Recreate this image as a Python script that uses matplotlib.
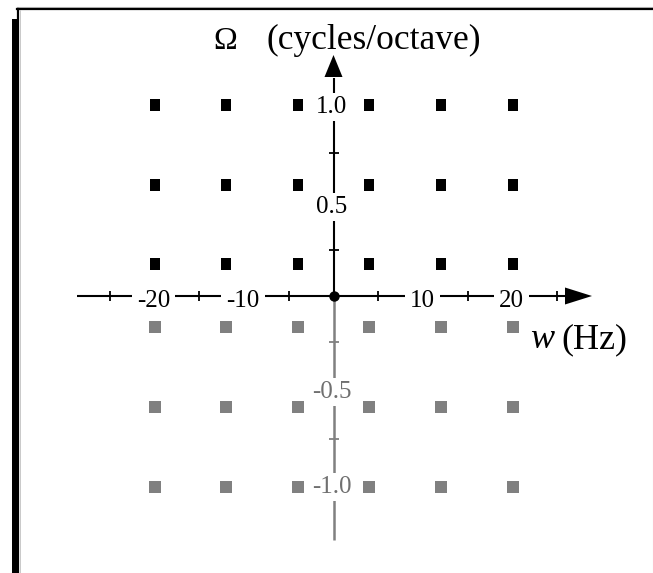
import matplotlib
matplotlib.use('Agg')
import matplotlib.pyplot as plt
from matplotlib.lines import Line2D
from matplotlib.patches import Rectangle
from matplotlib.transforms import IdentityTransform

plt.rcParams['font.family'] = ['Liberation Serif', 'DejaVu Serif']

# ---------------- data ----------------
w_columns = [-20, -12, -4, 4, 12, 20]          # Hz
omega_upper = [0.17, 0.58, 1.0]                # cycles/octave (black)
omega_lower = [-0.16, -0.58, -1.0]             # cycles/octave (gray)
x_minor_ticks = [-25, -15, -5, 5, 15, 25]
x_label_values = [-20, -10, 10, 20]
x_label_texts = ['-20', '-10', '10', '20']
y_ticks_upper = [0.24, 0.75]
y_ticks_lower = [-0.24, -0.75]
y_label_values = [1.0, 0.5, -0.5, -1.0]
y_label_texts = ['1.0', '0.5', '-0.5', '-1.0']

# ---------------- layout ----------------
W, H, DPI = 653, 573, 100
PX_PER_HZ = 8.95
PX_PER_UNIT = 191.0
OX, OY = 333.5, 296.0          # origin in pixels from top-left
PT = 72.0 / DPI                # points per pixel
GRAY = '#808080'
GRAY_TXT = '#707070'
LABEL_FS = 18

fig = plt.figure(figsize=(W / DPI, H / DPI), dpi=DPI)
ax = fig.add_axes([0, 0, 1, 1])
ax.set_xlim(-OX / PX_PER_HZ, (W - OX) / PX_PER_HZ)
ax.set_ylim(-(H - OY) / PX_PER_UNIT, OY / PX_PER_UNIT)
ax.axis('off')


def dx(px):
    return (px - OX) / PX_PER_HZ


def dy(py):
    return (OY - py) / PX_PER_UNIT


# axes lines
ax.plot([dx(77), dx(567)], [0, 0], color='k', lw=1.5, zorder=1, solid_capstyle='butt')
ax.fill([dx(565), dx(592), dx(565)], [dy(287.5), 0, dy(304.5)], color='k', lw=0, zorder=2)
ax.plot([0, 0], [0, dy(78)], color='k', lw=1.5, zorder=1, solid_capstyle='butt')
ax.fill([dx(OX - 9), 0, dx(OX + 9)], [dy(77), dy(55), dy(77)], color='k', lw=0, zorder=2)
ax.plot([0, 0], [0, dy(540)], color=GRAY, lw=1.8, zorder=0.9, solid_capstyle='butt')

# ticks
ax.plot(x_minor_ticks, [0] * len(x_minor_ticks), ls='none', marker='|', ms=6.5,
        mew=1.3, color='k', zorder=1)
ax.plot([0] * len(y_ticks_upper), y_ticks_upper, ls='none', marker='_', ms=6.5,
        mew=1.3, color='k', zorder=1)
ax.plot([0] * len(y_ticks_lower), y_ticks_lower, ls='none', marker='_', ms=6.5,
        mew=1.3, color=GRAY, zorder=1)

# origin dot
ax.plot([0], [0], marker='o', ms=6.5, color='k', zorder=4)

# tick labels
box = dict(boxstyle='square,pad=0.2', fc='white', ec='none')
for v, t in zip(x_label_values, x_label_texts):
    ax.annotate(t, (v, 0), xytext=(-1 * PT, -11 * PT), textcoords='offset points',
                ha='center', va='baseline', fontsize=LABEL_FS, color='k', bbox=box, zorder=3)

y_label_nudge_px = [-8, -12.5, -6.5, -6]
for v, t, n in zip(y_label_values, y_label_texts, y_label_nudge_px):
    ax.annotate(t, (0, v), xytext=(-2 * PT, n * PT), textcoords='offset points',
                ha='center', va='baseline', fontsize=LABEL_FS,
                color='k' if v > 0 else GRAY_TXT,
                bbox=dict(boxstyle='square,pad=0.12', fc='white', ec='none'), zorder=3)

# squares
rect = [(-0.45, -0.5), (0.45, -0.5), (0.45, 0.5), (-0.45, 0.5), (-0.45, -0.5)]
up_x = [w for o in omega_upper for w in w_columns]
up_y = [o for o in omega_upper for w in w_columns]
lo_x = [w for o in omega_lower for w in w_columns]
lo_y = [o for o in omega_lower for w in w_columns]
ax.plot(up_x, up_y, ls='none', marker=rect, ms=12 * PT, mew=0, color='k', zorder=5)
ax.plot(lo_x, lo_y, ls='none', marker=rect, ms=12.5 * PT, mew=0, color=GRAY, zorder=5)

# axis titles
fig.text(213 / W, 1 - 49 / H, 'Ω', fontsize=23, ha='left', va='baseline')
fig.text(266 / W, 1 - 49 / H, '(cycles/octave)', fontsize=25.5, ha='left', va='baseline')
fig.text(530 / W, 1 - 348 / H, 'w', fontsize=26, style='italic', ha='left', va='baseline')
fig.text(561 / W, 1 - 348 / H, '(Hz)', fontsize=26, ha='left', va='baseline')

# frame
idt = IdentityTransform()
fig.add_artist(Line2D([17, W], [H - 7.3, H - 7.3], transform=idt, color='#c0c0c0', lw=0.8))
fig.add_artist(Line2D([17, W], [H - 9, H - 9], transform=idt, color='k', lw=1.6))
fig.add_artist(Line2D([18, 18], [0, H - 9], transform=idt, color='k', lw=1.6))
fig.add_artist(Line2D([19.5, 19.5], [0, H - 10], transform=idt, color='#c0c0c0', lw=0.6))
fig.add_artist(Rectangle((12, 0), 6.5, H - 19, transform=idt, fc='k', ec='none'))
fig.add_artist(Line2D([W - 0.5, W - 0.5], [0, H - 10], transform=idt, color='#e6e6e6', lw=0.8))

fig.savefig('out.png', dpi=DPI)
